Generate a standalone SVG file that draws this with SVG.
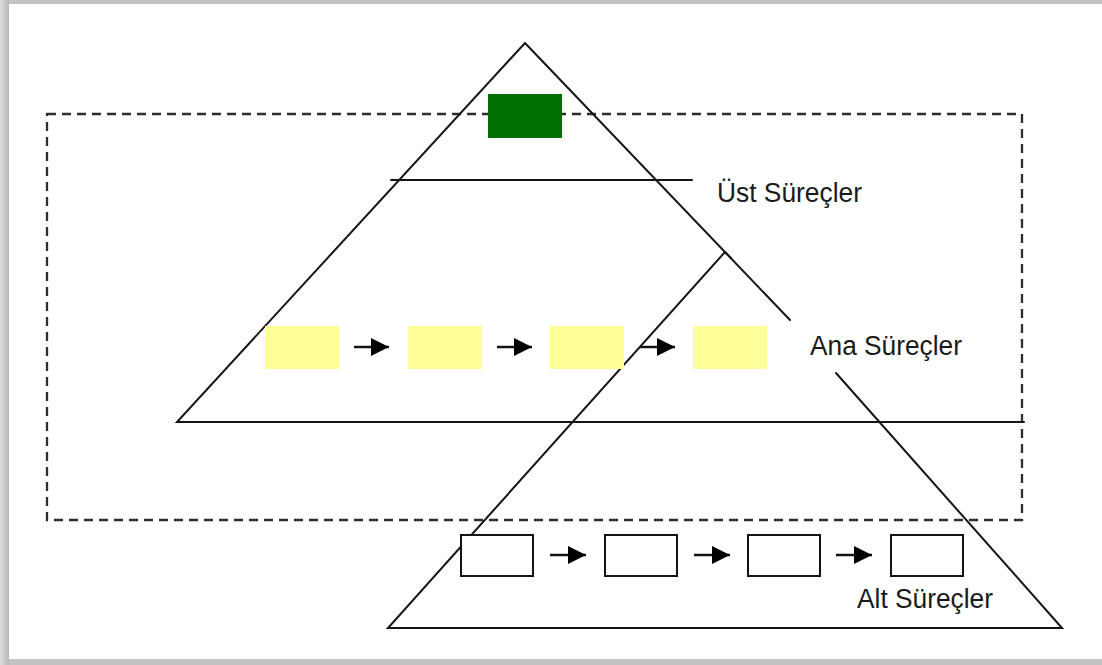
<svg xmlns="http://www.w3.org/2000/svg" width="1102" height="665" viewBox="0 0 1102 665">
  <defs>
    <linearGradient id="leftShade" x1="0" y1="0" x2="1" y2="0">
      <stop offset="0" stop-color="#dcdcdc"/>
      <stop offset="1" stop-color="#b8b8b8"/>
    </linearGradient>
    <marker id="arr" viewBox="0 0 10 10" refX="10" refY="5" markerWidth="7" markerHeight="7" markerUnits="strokeWidth" orient="auto">
      <path d="M0,0 L10,5 L0,10 z" fill="#000"/>
    </marker>
  </defs>
  <style>
    .ln { stroke: #141414; stroke-width: 2; fill: none; stroke-linecap: round; }
    .dash { stroke: #2e2e2e; stroke-width: 2.3; fill: none; stroke-dasharray: 9 6; }
    .ybox { fill: #ffff99; }
    .wbox { fill: #fff; stroke: #141414; stroke-width: 2; }
    .con { stroke: #141414; stroke-width: 2.6; fill: none; marker-end: url(#arr); }
    .lbl { font-family: "Liberation Sans", Arial, sans-serif; font-size: 27px; fill: #1a1a1a; }
  </style>

  <!-- frame -->
  <rect x="0" y="0" width="1102" height="665" fill="#c2c2c2"/>
  <rect x="0" y="0" width="9" height="665" fill="url(#leftShade)"/>
  <rect x="9" y="4" width="1093" height="655" fill="#ffffff"/>

  <!-- dashed region -->
  <rect class="dash" x="47" y="114" width="975" height="406"/>

  <!-- big triangle -->
  <g id="upper-pyramid">
    <path class="ln" d="M790,320 L525,43 L177,422 L1024,422"/>
    <path class="ln" d="M391,180 L692,180"/>
  </g>

  <!-- small triangle -->
  <g id="lower-pyramid">
    <path class="ln" d="M725,252 L388,628 L1062,628 L836,373"/>
    <path class="ln" d="M725,252 L731,258"/>
  </g>

  <!-- top node -->
  <g id="top-process">
    <rect x="488" y="94" width="74" height="44" fill="#007000"/>
  </g>

  <!-- main processes -->
  <g id="main-1"><rect class="ybox" x="265" y="326" width="74" height="43"/></g>
  <g id="main-2"><rect class="ybox" x="408" y="326" width="74" height="43"/></g>
  <g id="main-3"><rect class="ybox" x="550" y="326" width="74" height="43"/></g>
  <g id="main-4"><rect class="ybox" x="693" y="326" width="74" height="43"/></g>

  <!-- sub processes -->
  <g id="sub-1"><rect class="wbox" x="461" y="535" width="72" height="41"/></g>
  <g id="sub-2"><rect class="wbox" x="605" y="535" width="72" height="41"/></g>
  <g id="sub-3"><rect class="wbox" x="748" y="535" width="72" height="41"/></g>
  <g id="sub-4"><rect class="wbox" x="891" y="535" width="72" height="41"/></g>

  <!-- connectors -->
  <g id="connectors">
    <line class="con" x1="354" y1="347" x2="389" y2="347"/>
    <line class="con" x1="497" y1="347" x2="532" y2="347"/>
    <line class="con" x1="640" y1="347" x2="675" y2="347"/>
    <line class="con" x1="550" y1="555" x2="586" y2="555"/>
    <line class="con" x1="694" y1="555" x2="730" y2="555"/>
    <line class="con" x1="836" y1="555" x2="872" y2="555"/>
  </g>

  <!-- labels -->
  <g id="label-ust"><text class="lbl" x="717" y="202" textLength="145" lengthAdjust="spacingAndGlyphs">Üst Süreçler</text></g>
  <g id="label-ana"><text class="lbl" x="810" y="355" textLength="152" lengthAdjust="spacingAndGlyphs">Ana Süreçler</text></g>
  <g id="label-alt"><text class="lbl" x="857" y="608" textLength="136" lengthAdjust="spacingAndGlyphs">Alt Süreçler</text></g>
</svg>
